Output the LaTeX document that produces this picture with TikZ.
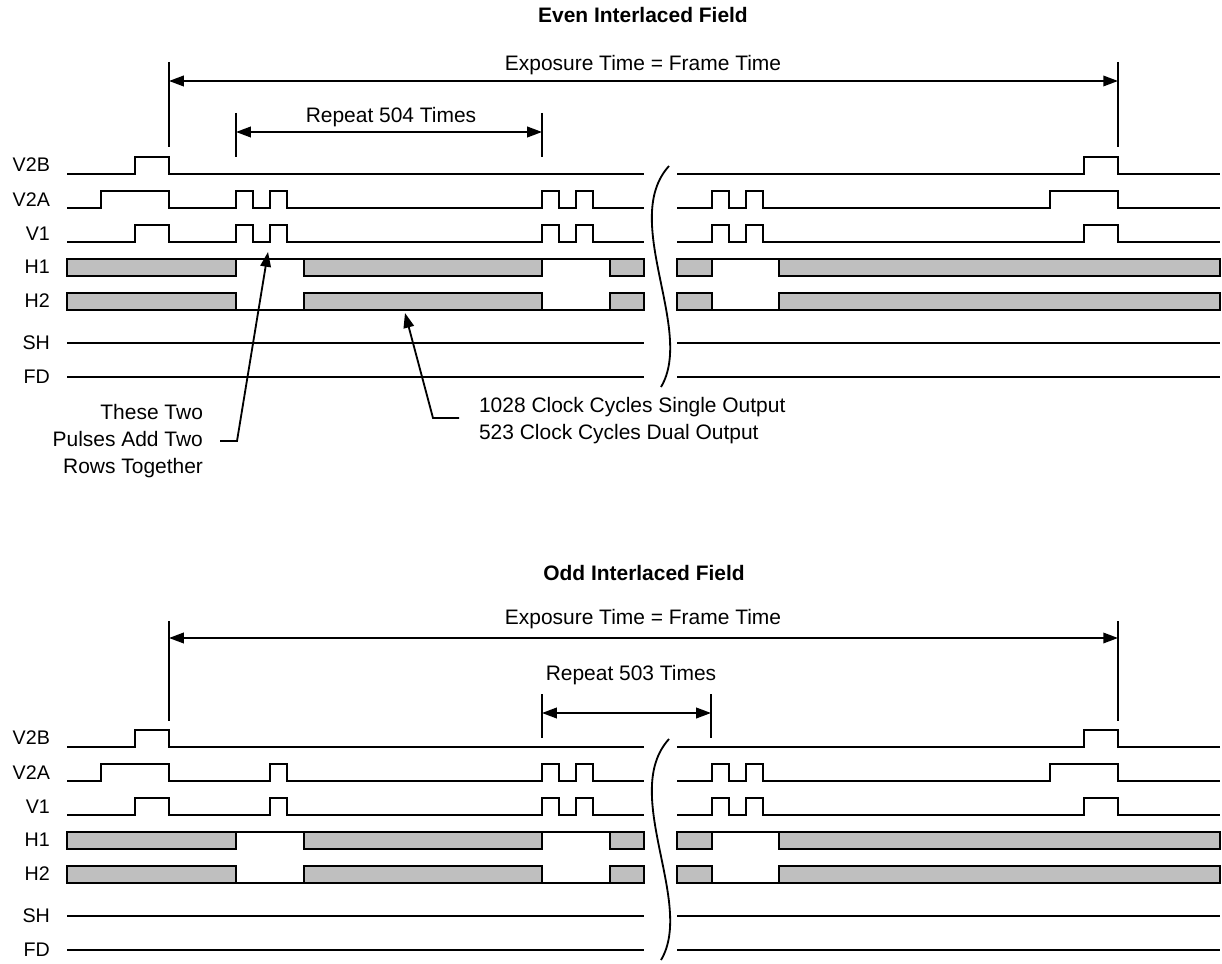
\documentclass[tikz,border=0pt]{standalone}
\usepackage{fontspec}
\setmainfont{Liberation Sans}
\usepackage{tikz}
\usetikzlibrary{arrows.meta,positioning}

\begin{document}
\begin{tikzpicture}[x=0.025cm,y=-0.025cm,
  txt/.style={inner sep=2pt,font=\fontsize{14.9}{19.2}\selectfont},
  title/.style={inner sep=2pt,font=\fontsize{14.9}{19.2}\selectfont\bfseries},
  signame/.style={inner sep=2pt,anchor=east,font=\fontsize{14}{17}\selectfont},
  wave/.style={black,line width=1.3pt},
  bus/.style={wave,fill=black!25},
  dim/.style={line width=1.3pt,
              {Triangle[length=10.5pt,width=7.5pt]}-{Triangle[length=10.5pt,width=7.5pt]}},
  lead/.style={line width=1.3pt,-{Triangle[length=10.5pt,width=7.5pt]}}]

\useasboundingbox (0,0) rectangle (1222,964);

%% ---------- signals common to both fields ----------
\foreach \f/\dy in {e/0,o/573}{
  \begin{scope}[shift={(0,\dy)}]
  \foreach \s/\y in {V2B/165,V2A/200,V1/234,H1/267,H2/301,SH/343,FD/377}
    \node[signame] (\f\s) at (53,\y) {\s};
  % V2B
  \draw[wave] (67,174) -| (135,157) -| (169,174) -- (644,174);
  \draw[wave] (677,174) -| (1084,157) -| (1118,174) -- (1220,174);
  % V2A and V1 after the break
  \draw[wave] (677,208) -| (712,191) -| (729,208) -| (746,191) -| (763,208)
    -| (1050,191) -| (1118,208) -- (1220,208);
  \draw[wave] (677,242) -| (712,225) -| (729,242) -| (746,225) -| (763,242)
    -| (1084,225) -| (1118,242) -- (1220,242);
  % H1 (gap line on top), H2 (gap line at bottom)
  \foreach \ya/\yb in {259/259,293/310}{
    \foreach \a/\b in {67/236,304/542,610/644,677/712,779/1220}
      \draw[bus] (\a,\ya) rectangle (\b,\ya+17);
    \foreach \a/\b in {236/304,542/610,712/779}
      \draw[wave] (\a,\yb) -- (\b,\yb);
  }
  % SH, FD
  \foreach \y in {343,377}{
    \draw[wave] (67,\y) -- (644,\y);
    \draw[wave] (677,\y) -- (1220,\y);
  }
  % time break
  \draw[wave] (669,166) .. controls (620,220) and (695,330) .. (661,387);
  \end{scope}
}

%% ---------- (a) even interlaced field ----------
\node[title] (eTitle) at (643,15) {Even Interlaced Field};
\node[txt] (eExp) at (643,65) {Exposure Time = Frame Time};
\node[txt] (eRep) at (391,117) {Repeat 504 Times};
% limit ticks
\draw[wave] (169,62) -- (169,147);
\draw[wave] (1118,62) -- (1118,147);
\draw[wave] (236,113) -- (236,157);
\draw[wave] (542,113) -- (542,157);
\coordinate (eExpL) at (169,81);
\coordinate (eExpR) at (1118,81);
\coordinate (eRepL) at (236,132);
\coordinate (eRepR) at (542,132);
\draw[dim] (eExpL) -- (eExpR);
\draw[dim] (eRepL) -- (eRepR);
% V2A, V1 before the break
\draw[wave] (67,208) -| (101,191) -| (169,208) -| (236,191) -| (253,208) -| (270,191)
  -| (287,208) -| (542,191) -| (559,208) -| (576,191) -| (593,208) -- (644,208);
\draw[wave] (67,242) -| (135,225) -| (169,242) -| (236,225) -| (253,242) -| (270,225)
  -| (287,242) -| (542,225) -| (559,242) -| (576,225) -| (593,242) -- (644,242);
% callouts
\node[txt,align=right,anchor=east] (eTwoNote) at (206,441)
  {These Two\\Pulses Add Two\\Rows Together};
\node[txt,align=left,anchor=west] (eClkNote) at (476,421)
  {1028 Clock Cycles Single Output\\523 Clock Cycles Dual Output};
\coordinate (eTwoTip) at (268,252);
\coordinate (eClkTip) at (405,313);
\draw[lead] ([xshift=0.35cm]eTwoNote.east) -- ++(17,0) -- (eTwoTip);
\draw[lead] ([shift={(-17,-3)}]eClkNote.west) -- ++(-26,0) -- (eClkTip);

%% ---------- (b) odd interlaced field ----------
\node[title] (oTitle) at (644,573) {Odd Interlaced Field};
\node[txt] (oExp) at (643,619) {Exposure Time = Frame Time};
\node[txt] (oRep) at (631,675) {Repeat 503 Times};
% limit ticks
\draw[wave] (169,621) -- (169,721);
\draw[wave] (1118,621) -- (1118,721);
\draw[wave] (542,694) -- (542,738);
\draw[wave] (711,694) -- (711,738);
\coordinate (oExpL) at (169,638);
\coordinate (oExpR) at (1118,638);
\coordinate (oRepL) at (542,713);
\coordinate (oRepR) at (711,713);
\draw[dim] (oExpL) -- (oExpR);
\draw[dim] (oRepL) -- (oRepR);
% V2A, V1 before the break
\draw[wave] (67,781) -| (101,764) -| (169,781) -| (270,764) -| (287,781)
  -| (542,764) -| (559,781) -| (576,764) -| (593,781) -- (644,781);
\draw[wave] (67,815) -| (135,798) -| (169,815) -| (270,798) -| (287,815)
  -| (542,798) -| (559,815) -| (576,798) -| (593,815) -- (644,815);

\end{tikzpicture}
\end{document}
